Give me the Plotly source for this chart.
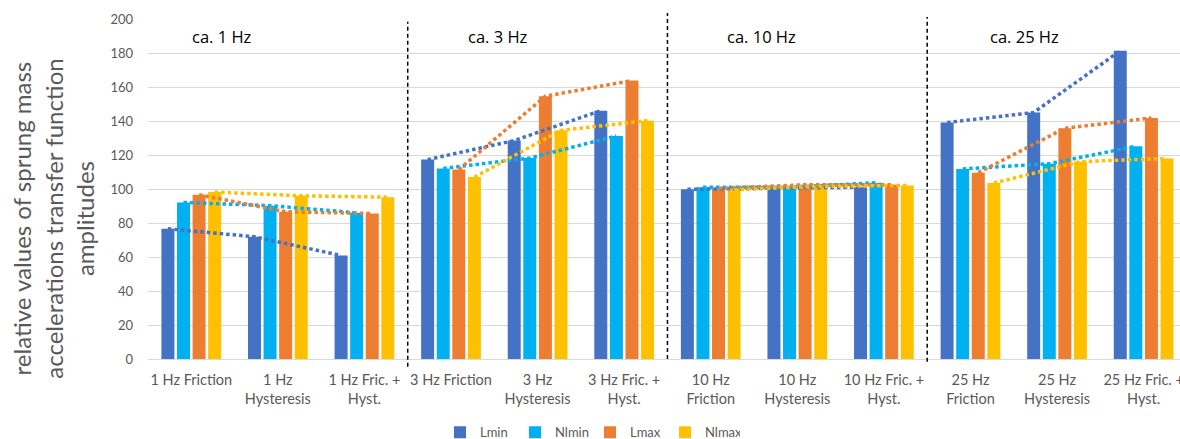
import plotly.graph_objects as go

categories = [
    "1 Hz Friction", "1 Hz<br>Hysteresis", "1 Hz Fric. +<br>Hyst.",
    "3 Hz Friction", "3 Hz<br>Hysteresis", "3 Hz Fric. +<br>Hyst.",
    "10 Hz<br>Friction", "10 Hz<br>Hysteresis", "10 Hz Fric. +<br>Hyst.",
    "25 Hz<br>Friction", "25 Hz<br>Hysteresis", "25 Hz Fric. +<br>Hyst.",
]
group_labels = ["ca. 1 Hz", "ca. 3 Hz", "ca. 10 Hz", "ca. 25 Hz"]
group_size = 3

Lmin = [76.6, 71.9, 60.9, 117.3, 128.5, 146.1, 99.8, 100.3, 101.1, 139.1, 145.0, 181.3]
Nlmin = [92.1, 90.2, 86.0, 112.1, 118.2, 131.2, 101.1, 101.0, 103.7, 111.8, 114.9, 125.1]
Lmax = [96.6, 86.6, 85.6, 111.4, 154.6, 163.8, 100.4, 102.5, 102.5, 109.6, 135.7, 141.8]
Nlmax = [98.2, 96.0, 95.2, 107.0, 134.5, 140.2, 99.6, 101.5, 102.1, 103.5, 116.1, 118.0]

series = [("Lmin", Lmin, "#4472C4"), ("Nlmin", Nlmin, "#00B0F0"),
          ("Lmax", Lmax, "#ED7D31"), ("Nlmax", Nlmax, "#FFC000")]

FONT = "Lato"
GRAY = "#595959"
slot = 0.18
bar_w = 0.15

fig = go.Figure()
xs = list(range(len(categories)))
for k, (name, vals, col) in enumerate(series):
    off = (k - 1.5) * slot
    fig.add_trace(go.Bar(x=xs, y=vals, name=name, marker=dict(color=col, line=dict(width=0)),
                         width=bar_w, offset=off - bar_w / 2))

for k, (name, vals, col) in enumerate(series):
    off = (k - 1.5) * slot
    lx, ly = [], []
    for g in range(len(categories) // group_size):
        for j in range(group_size):
            i = g * group_size + j
            lx.append(i + off)
            ly.append(vals[i])
        lx.append(None)
        ly.append(None)
    fig.add_trace(go.Scatter(x=lx, y=ly, mode="lines", showlegend=False, hoverinfo="skip",
                             line=dict(color=col, width=3.5, dash="3.5px,3px")))

ngroups = len(categories) // group_size
sep_y = [(0.992, -0.0226), (1.018, 0.0), (1.006, -0.008)]
for g in range(1, ngroups):
    y1, y0 = sep_y[g - 1]
    fig.add_shape(type="line", xref="x", yref="paper", x0=g * group_size - 0.5, x1=g * group_size - 0.5,
                  y0=y0, y1=y1, line=dict(color="black", width=1.5, dash="4px,3px"))

label_x = [0.35, 3.54, 6.59, 9.62]
for lx_, txt in zip(label_x, group_labels):
    fig.add_annotation(x=lx_, y=190, xref="x", yref="y", text=txt, showarrow=False,
                       font=dict(family="Open Sans", size=16.5, color="black"))

fig.add_annotation(xref="paper", yref="paper", x=-0.092, y=0.4126, textangle=-90,
                   text="relative values of sprung mass<br>accelerations transfer function<br>amplitudes",
                   showarrow=False, font=dict(family=FONT, size=24, color=GRAY),
                   xanchor="center", yanchor="middle")

fig.update_layout(
    width=1180, height=439,
    margin=dict(l=148, r=0, t=19, b=80),
    paper_bgcolor="white", plot_bgcolor="white",
    barmode="overlay",
    font=dict(family=FONT, color=GRAY),
    legend=dict(orientation="h", xref="container", yref="container", x=0.5, xanchor="center",
                y=0.015, yanchor="middle", font=dict(family=FONT, size=13, color=GRAY),
                itemwidth=30, traceorder="normal", entrywidth=30, entrywidthmode="pixels"),
    xaxis=dict(range=[-0.5, 11.42], tickmode="array", tickvals=xs, ticktext=categories,
               showgrid=False, showline=True, linecolor="#D9D9D9", linewidth=1, zeroline=False,
               ticks="", tickfont=dict(family=FONT, size=14.5, color=GRAY), automargin=False,
               ticklabelstandoff=8, ticklabeloverflow="allow"),
    yaxis=dict(range=[0, 200], dtick=20, showgrid=True, gridcolor="#D9D9D9", gridwidth=1,
               zeroline=False, showline=False, ticks="", tickfont=dict(family=FONT, size=13, color=GRAY),
               automargin=False, ticklabelstandoff=14),
)

fig.write_html("out.html")
